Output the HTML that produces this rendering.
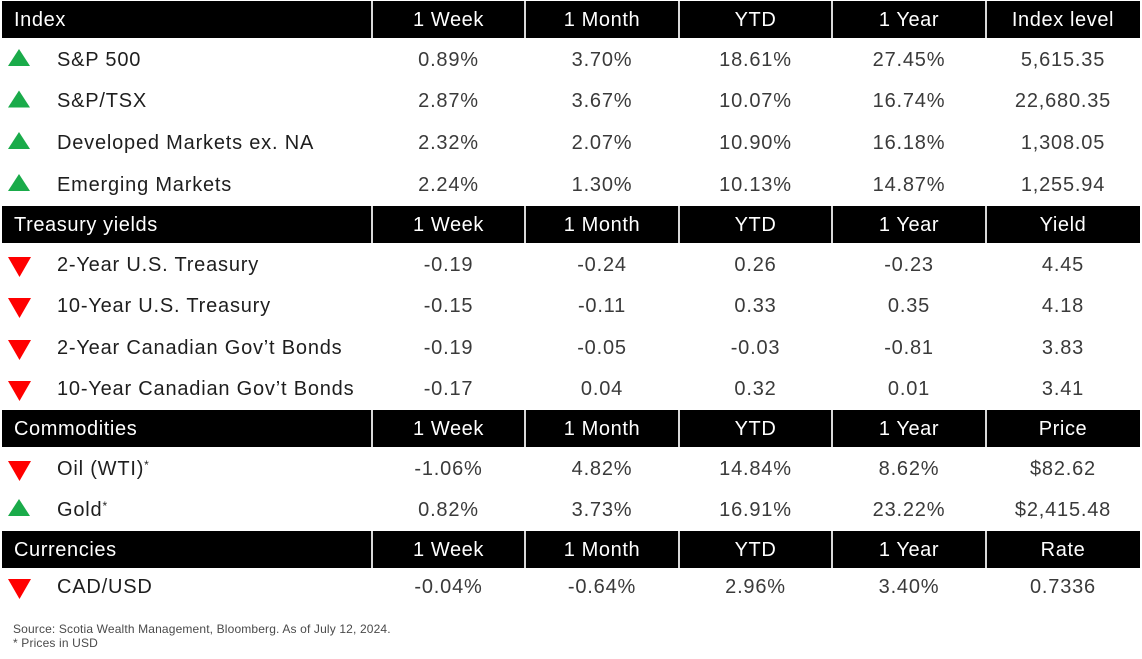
<!DOCTYPE html>
<html><head><meta charset="utf-8">
<style>
html,body{margin:0;padding:0;background:#fff;}
body{width:1142px;height:659px;position:relative;overflow:hidden;font-family:"Liberation Sans",sans-serif;}
.hb{position:absolute;left:2px;width:1138px;height:37px;background:#000;}
.sep{position:absolute;width:2px;height:37px;background:#d8d8d8;}
.t{position:absolute;height:20px;line-height:20px;font-size:20px;letter-spacing:0.8px;white-space:nowrap;}
.h{color:#fff;letter-spacing:0.6px;}
.c{text-align:center;}
.v{color:#3a3a3a;}
.l{color:#1e1e1e;left:57px;}
.hl{left:14px;}
.c1{left:372px;width:153px;}
.c2{left:525px;width:154px;}
.c3{left:679px;width:153px;}
.c4{left:832px;width:154px;}
.c5{left:986px;width:154px;}
svg.tri{position:absolute;left:0;top:0;}
.f{position:absolute;left:13px;font-size:12px;line-height:14px;color:#4a4a4a;letter-spacing:0.15px;white-space:nowrap;}
sup{font-size:12px;vertical-align:6px;line-height:0;}
</style></head><body>

<div class="hb" style="top:1px"></div>
<div class="hb" style="top:206px"></div>
<div class="hb" style="top:410px"></div>
<div class="hb" style="top:531px"></div>

<div class="sep" style="left:371px;top:1px"></div><div class="sep" style="left:524px;top:1px"></div><div class="sep" style="left:678px;top:1px"></div><div class="sep" style="left:831px;top:1px"></div><div class="sep" style="left:985px;top:1px"></div>
<div class="sep" style="left:371px;top:206px"></div><div class="sep" style="left:524px;top:206px"></div><div class="sep" style="left:678px;top:206px"></div><div class="sep" style="left:831px;top:206px"></div><div class="sep" style="left:985px;top:206px"></div>
<div class="sep" style="left:371px;top:410px"></div><div class="sep" style="left:524px;top:410px"></div><div class="sep" style="left:678px;top:410px"></div><div class="sep" style="left:831px;top:410px"></div><div class="sep" style="left:985px;top:410px"></div>
<div class="sep" style="left:371px;top:531px"></div><div class="sep" style="left:524px;top:531px"></div><div class="sep" style="left:678px;top:531px"></div><div class="sep" style="left:831px;top:531px"></div><div class="sep" style="left:985px;top:531px"></div>

<svg class="tri" width="40" height="659">
<polygon points="8,66 30,66 19,49" fill="#1aab4a"/>
<polygon points="8,107.5 30,107.5 19,90.5" fill="#1aab4a"/>
<polygon points="8,149 30,149 19,132" fill="#1aab4a"/>
<polygon points="8,191 30,191 19,174" fill="#1aab4a"/>
<polygon points="8,257 31,257 19.5,277" fill="#ff0000"/>
<polygon points="8,298 31,298 19.5,318" fill="#ff0000"/>
<polygon points="8,340 31,340 19.5,360" fill="#ff0000"/>
<polygon points="8,381 31,381 19.5,401" fill="#ff0000"/>
<polygon points="8,461 31,461 19.5,481" fill="#ff0000"/>
<polygon points="8,516 30,516 19,499" fill="#1aab4a"/>
<polygon points="8,579 31,579 19.5,599" fill="#ff0000"/>
</svg>

<div class="t h hl" style="top:10px">Index</div>
<div class="t h c c1" style="top:10px">1 Week</div>
<div class="t h c c2" style="top:10px">1 Month</div>
<div class="t h c c3" style="top:10px">YTD</div>
<div class="t h c c4" style="top:10px">1 Year</div>
<div class="t h c c5" style="top:10px">Index level</div>

<div class="t l" style="top:50px">S&amp;P 500</div>
<div class="t v c c1" style="top:50px">0.89%</div><div class="t v c c2" style="top:50px">3.70%</div><div class="t v c c3" style="top:50px">18.61%</div><div class="t v c c4" style="top:50px">27.45%</div><div class="t v c c5" style="top:50px">5,615.35</div>

<div class="t l" style="top:91px">S&amp;P/TSX</div>
<div class="t v c c1" style="top:91px">2.87%</div><div class="t v c c2" style="top:91px">3.67%</div><div class="t v c c3" style="top:91px">10.07%</div><div class="t v c c4" style="top:91px">16.74%</div><div class="t v c c5" style="top:91px">22,680.35</div>

<div class="t l" style="top:133px">Developed Markets ex. NA</div>
<div class="t v c c1" style="top:133px">2.32%</div><div class="t v c c2" style="top:133px">2.07%</div><div class="t v c c3" style="top:133px">10.90%</div><div class="t v c c4" style="top:133px">16.18%</div><div class="t v c c5" style="top:133px">1,308.05</div>

<div class="t l" style="top:175px">Emerging Markets</div>
<div class="t v c c1" style="top:175px">2.24%</div><div class="t v c c2" style="top:175px">1.30%</div><div class="t v c c3" style="top:175px">10.13%</div><div class="t v c c4" style="top:175px">14.87%</div><div class="t v c c5" style="top:175px">1,255.94</div>

<div class="t h hl" style="top:215px">Treasury yields</div>
<div class="t h c c1" style="top:215px">1 Week</div>
<div class="t h c c2" style="top:215px">1 Month</div>
<div class="t h c c3" style="top:215px">YTD</div>
<div class="t h c c4" style="top:215px">1 Year</div>
<div class="t h c c5" style="top:215px">Yield</div>

<div class="t l" style="top:255px">2-Year U.S. Treasury</div>
<div class="t v c c1" style="top:255px">-0.19</div><div class="t v c c2" style="top:255px">-0.24</div><div class="t v c c3" style="top:255px">0.26</div><div class="t v c c4" style="top:255px">-0.23</div><div class="t v c c5" style="top:255px">4.45</div>

<div class="t l" style="top:296px">10-Year U.S. Treasury</div>
<div class="t v c c1" style="top:296px">-0.15</div><div class="t v c c2" style="top:296px">-0.11</div><div class="t v c c3" style="top:296px">0.33</div><div class="t v c c4" style="top:296px">0.35</div><div class="t v c c5" style="top:296px">4.18</div>

<div class="t l" style="top:338px">2-Year Canadian Gov’t Bonds</div>
<div class="t v c c1" style="top:338px">-0.19</div><div class="t v c c2" style="top:338px">-0.05</div><div class="t v c c3" style="top:338px">-0.03</div><div class="t v c c4" style="top:338px">-0.81</div><div class="t v c c5" style="top:338px">3.83</div>

<div class="t l" style="top:379px">10-Year Canadian Gov’t Bonds</div>
<div class="t v c c1" style="top:379px">-0.17</div><div class="t v c c2" style="top:379px">0.04</div><div class="t v c c3" style="top:379px">0.32</div><div class="t v c c4" style="top:379px">0.01</div><div class="t v c c5" style="top:379px">3.41</div>

<div class="t h hl" style="top:419px">Commodities</div>
<div class="t h c c1" style="top:419px">1 Week</div>
<div class="t h c c2" style="top:419px">1 Month</div>
<div class="t h c c3" style="top:419px">YTD</div>
<div class="t h c c4" style="top:419px">1 Year</div>
<div class="t h c c5" style="top:419px">Price</div>

<div class="t l" style="top:459px">Oil (WTI)<sup>*</sup></div>
<div class="t v c c1" style="top:459px">-1.06%</div><div class="t v c c2" style="top:459px">4.82%</div><div class="t v c c3" style="top:459px">14.84%</div><div class="t v c c4" style="top:459px">8.62%</div><div class="t v c c5" style="top:459px">$82.62</div>

<div class="t l" style="top:500px">Gold<sup>*</sup></div>
<div class="t v c c1" style="top:500px">0.82%</div><div class="t v c c2" style="top:500px">3.73%</div><div class="t v c c3" style="top:500px">16.91%</div><div class="t v c c4" style="top:500px">23.22%</div><div class="t v c c5" style="top:500px">$2,415.48</div>

<div class="t h hl" style="top:540px">Currencies</div>
<div class="t h c c1" style="top:540px">1 Week</div>
<div class="t h c c2" style="top:540px">1 Month</div>
<div class="t h c c3" style="top:540px">YTD</div>
<div class="t h c c4" style="top:540px">1 Year</div>
<div class="t h c c5" style="top:540px">Rate</div>

<div class="t l" style="top:577px">CAD/USD</div>
<div class="t v c c1" style="top:577px">-0.04%</div><div class="t v c c2" style="top:577px">-0.64%</div><div class="t v c c3" style="top:577px">2.96%</div><div class="t v c c4" style="top:577px">3.40%</div><div class="t v c c5" style="top:577px">0.7336</div>

<div class="f" style="top:622px">Source: Scotia Wealth Management, Bloomberg. As of July 12, 2024.</div>
<div class="f" style="top:636px">* Prices in USD</div>

</body></html>
